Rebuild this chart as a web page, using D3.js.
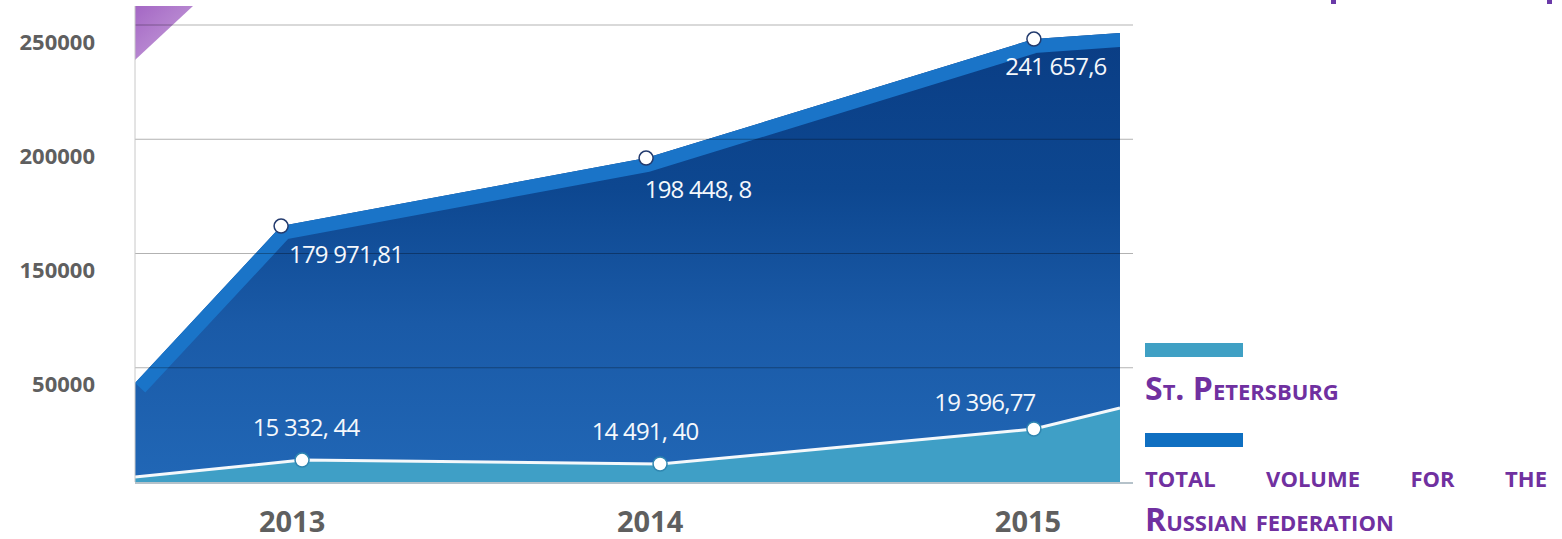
<!DOCTYPE html>
<html>
<head>
<meta charset="utf-8">
<script src="https://cdn.jsdelivr.net/npm/d3@7"></script>
<style>
  body { margin: 0; background: #fff; }
  svg { display: block; }
</style>
</head>
<body>
<div id="chart"></div>
<script>
// Данные (значения по положению на шкале)
const years = [2013, 2014, 2015];
const totalX = [2012.573, 2012.97, 2013.962, 2015.016, 2015.25];
const totalValues = [54200, 140000, 177200, 242300, 245600];
const totalLabels = ["179 971,81", "198 448, 8", "241 657,6"];
const spbX = [2012.573, 2013.027, 2014.0, 2015.016, 2015.25];
const spbValues = [2700, 12000, 9850, 29000, 40500];
const spbLabels = ["15 332, 44", "14 491, 40", "19 396,77"];
const gridValues = [250000, 187500, 125000, 62500];
const tickLabels = ["250000", "200000", "150000", "50000"];
const legendNames = ["St. Petersburg", "total volume for the Russian federation"];

function drawChart() {
    const width = 1562, height = 539;
    const left = 135, right = 1120, top = 25, bottom = 482;

    const svg = d3.select("#chart").html("")
                  .append("svg")
                  .attr("width", width)
                  .attr("height", height);

    const x = d3.scaleLinear().domain([totalX[0], totalX[totalX.length - 1]]).range([left, right]);
    const y = d3.scaleLinear().domain([0, 250000]).range([bottom, top]);

    const total = totalX.map((v, i) => ({ x: v, v: totalValues[i] }));
    const spb = spbX.map((v, i) => ({ x: v, v: spbValues[i] }));

    const defs = svg.append("defs");

    // Градиент для общей площади
    const grad = defs.append("linearGradient")
                     .attr("id", "totalGrad")
                     .attr("gradientUnits", "userSpaceOnUse")
                     .attr("x1", 0).attr("y1", 30).attr("x2", 0).attr("y2", bottom);
    grad.append("stop").attr("offset", "0%").attr("stop-color", "#0a3d84");
    grad.append("stop").attr("offset", "35%").attr("stop-color", "#0d4790");
    grad.append("stop").attr("offset", "65%").attr("stop-color", "#1a5aa7");
    grad.append("stop").attr("offset", "100%").attr("stop-color", "#2167b6");

    const triGrad = defs.append("linearGradient")
                        .attr("id", "triGrad")
                        .attr("x1", 0).attr("y1", 0).attr("x2", 1).attr("y2", 1);
    triGrad.append("stop").attr("offset", "0%").attr("stop-color", "#a467c4");
    triGrad.append("stop").attr("offset", "100%").attr("stop-color", "#c8a3dc");

    // Фиолетовый уголок слева сверху
    svg.append("path")
       .attr("d", `M${left},6 L${left + 58},6 L${left},60 Z`)
       .style("fill", "url(#triGrad)");

    // Обрывки заголовка сверху справа
    svg.append("rect").attr("x", 1331).attr("y", 0).attr("width", 5).attr("height", 4).style("fill", "#6a3aa8");
    svg.append("rect").attr("x", 1547).attr("y", 0).attr("width", 5).attr("height", 4).style("fill", "#6a3aa8");

    const area = d3.area().x(d => x(d.x)).y0(y(0)).y1(d => y(d.v));
    const line = d3.line().x(d => x(d.x)).y(d => y(d.v));

    defs.append("clipPath").attr("id", "totalClip")
        .append("path").attr("d", area(total));

    // Общий объём
    svg.append("path")
       .attr("d", area(total))
       .style("fill", "url(#totalGrad)");

    svg.append("path")
       .attr("d", line(total))
       .attr("clip-path", "url(#totalClip)")
       .style("fill", "none")
       .style("stroke", "#1a74c8")
       .style("stroke-width", 28);

    // Санкт-Петербург
    svg.append("path")
       .attr("d", area(spb))
       .style("fill", "#3f9fc6");

    svg.append("path")
       .attr("d", line(spb))
       .style("fill", "none")
       .style("stroke", "#f4f8fb")
       .style("stroke-width", 3);

    // Сетка
    svg.selectAll(".grid")
       .data(gridValues)
       .enter()
       .append("line")
       .attr("class", "grid")
       .attr("x1", left).attr("x2", 1133)
       .attr("y1", d => y(d)).attr("y2", d => y(d))
       .style("stroke", "#000")
       .style("stroke-opacity", 0.3)
       .style("stroke-width", 1);

    svg.append("line")
       .attr("x1", left).attr("x2", left)
       .attr("y1", 6).attr("y2", bottom)
       .style("stroke", "#c8c8c8");

    svg.append("line")
       .attr("x1", left).attr("x2", 1133)
       .attr("y1", bottom + 1).attr("y2", bottom + 1)
       .style("stroke", "#b5c2ca")
       .style("stroke-width", 2);

    // Подписи оси Y
    svg.selectAll(".ylab")
       .data(gridValues)
       .enter()
       .append("text")
       .attr("class", "ylab")
       .attr("x", 95)
       .attr("y", d => y(d) + 17)
       .attr("dy", ".35em")
       .attr("text-anchor", "end")
       .style("font-family", "'Open Sans', sans-serif")
       .style("font-weight", "bold")
       .style("font-size", "22px")
       .style("fill", "#5f5f5f")
       .text((d, i) => tickLabels[i]);

    // Годы
    svg.selectAll(".year")
       .data(years)
       .enter()
       .append("text")
       .attr("class", "year")
       .attr("x", d => x(d) - (d === 2014 ? 10 : 0))
       .attr("y", 532)
       .attr("text-anchor", "middle")
       .style("font-family", "'Open Sans', sans-serif")
       .style("font-weight", "bold")
       .style("font-size", "29px")
       .style("fill", "#5f5f5f")
       .text(d => d);

    // Маркеры и подписи значений
    const totalOffsets = [[65, 29], [52, 32], [22, 28]];
    const spbOffsets = [[4, -32], [-15, -32], [-49, -26]];

    function drawMarkers(points, labels, offsets, edge) {
        const g = svg.append("g");
        g.selectAll("circle")
         .data(points.slice(1, 4))
         .enter()
         .append("circle")
         .attr("cx", d => x(d.x))
         .attr("cy", d => y(d.v))
         .attr("r", 7)
         .style("fill", "#fff")
         .style("stroke", edge)
         .style("stroke-width", 1.5);

        g.selectAll("text")
         .data(points.slice(1, 4))
         .enter()
         .append("text")
         .attr("x", (d, i) => x(d.x) + offsets[i][0])
         .attr("y", (d, i) => y(d.v) + offsets[i][1])
         .attr("dy", ".35em")
         .attr("text-anchor", "middle")
         .style("font-family", "'Open Sans', sans-serif")
         .style("font-size", "24px")
         .style("letter-spacing", "-0.8px")
         .style("fill", "#f5f8fc")
         .text((d, i) => labels[i]);
    }
    drawMarkers(total, totalLabels, totalOffsets, "#233b6e");
    drawMarkers(spb, spbLabels, spbOffsets, "#2f86b0");

    // Легенда
    const lx = 1145;
    svg.append("rect").attr("x", lx).attr("y", 343).attr("width", 98).attr("height", 14).style("fill", "#3fa0c4");
    svg.append("rect").attr("x", lx).attr("y", 433).attr("width", 98).attr("height", 14).style("fill", "#0f6fc1");

    const legendStyle = sel => sel
        .style("font-family", "'Open Sans', sans-serif")
        .style("font-weight", "bold")
        .style("font-size", "32px")
        .style("font-variant", "small-caps")
        .style("fill", "#7030a0");

    svg.append("text").attr("x", lx).attr("y", 400).call(legendStyle).text(legendNames[0]);

    // Вторая подпись: первая строка выровнена по ширине
    const words = legendNames[1].split(" ");
    const firstLine = words.slice(0, 4);
    const secondLine = words.slice(4).join(" ");
    const wordNodes = firstLine.map(w => svg.append("text").attr("y", 487).call(legendStyle).text(w));
    const widths = wordNodes.map(n => n.node().getComputedTextLength());
    const gap = (1547 - lx - d3.sum(widths)) / (firstLine.length - 1);
    let cx = lx;
    wordNodes.forEach((n, i) => { n.attr("x", cx); cx += widths[i] + gap; });

    svg.append("text").attr("x", lx).attr("y", 531).call(legendStyle).text(secondLine);
}

drawChart();
</script>
</body>
</html>
